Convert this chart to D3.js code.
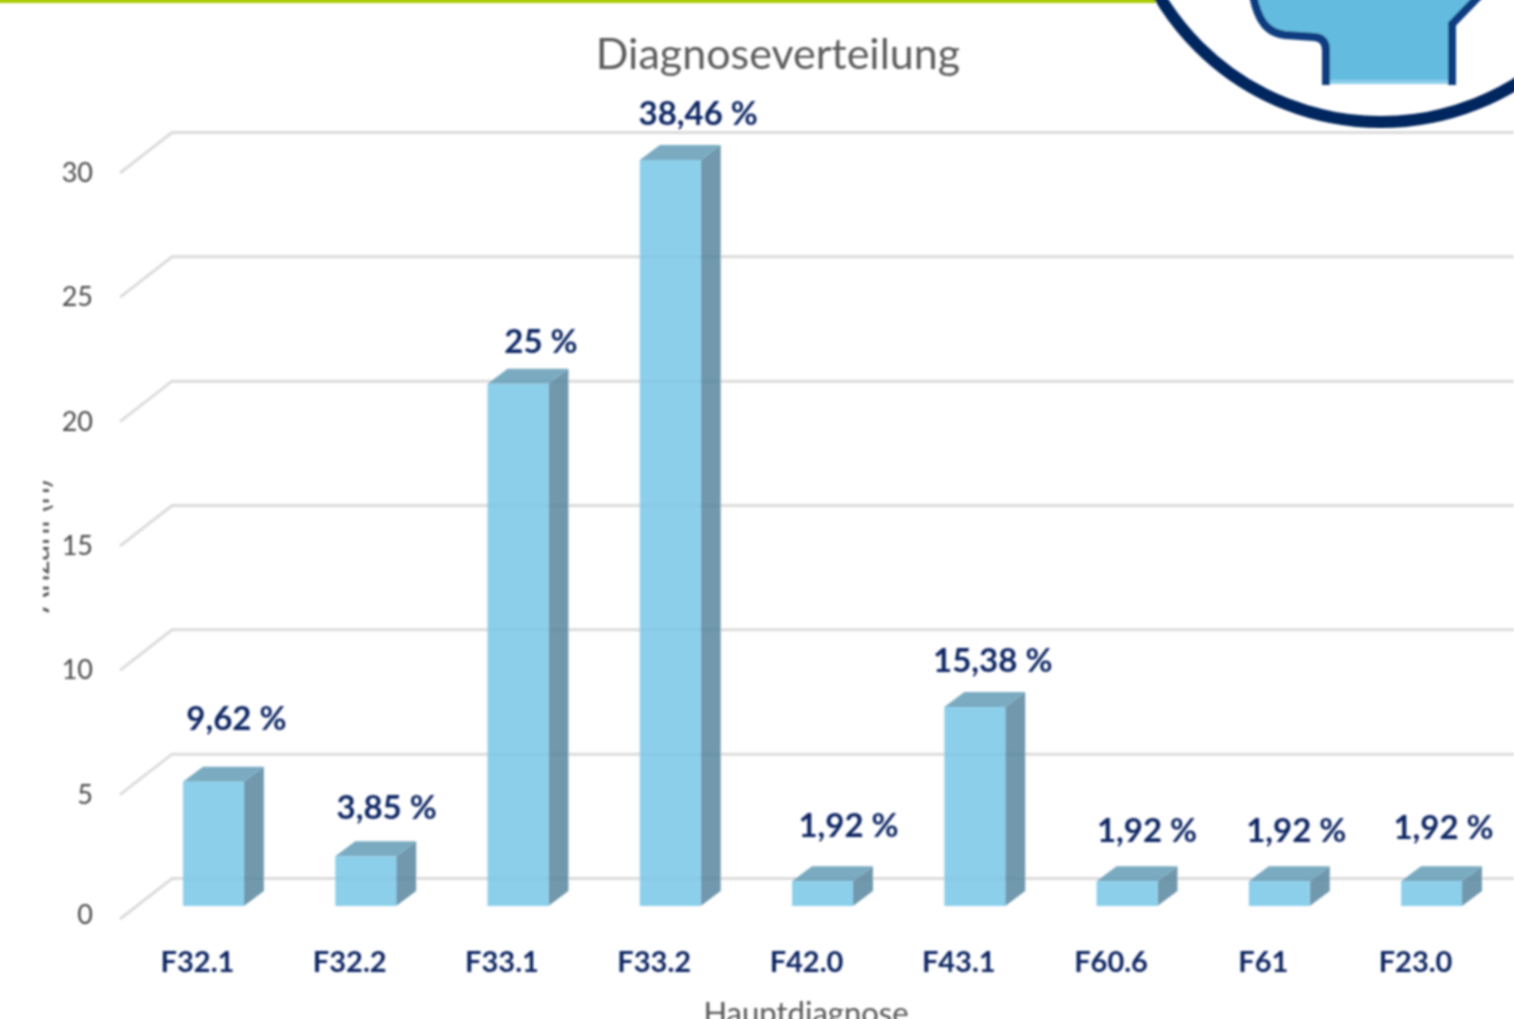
<!DOCTYPE html>
<html lang="de">
<head>
<meta charset="utf-8">
<title>Diagnoseverteilung</title>
<script src="https://cdn.jsdelivr.net/npm/d3@7"></script>
<style>
    html, body { margin: 0; padding: 0; background: #fff; overflow: hidden; }
    svg { display: block; }
    text { font-family: Lato, "Open Sans", sans-serif; }
    .domain { display: none; }
</style>
</head>
<body>
<div id="chart"></div>
<script>
// Chart data
var categories = ['F32.1', 'F32.2', 'F33.1', 'F33.2', 'F42.0', 'F43.1', 'F60.6', 'F61', 'F23.0'];
var counts = [5, 2, 21, 30, 1, 8, 1, 1, 1];
var percentLabels = ['9,62 %', '3,85 %', '25 %', '38,46 %', '1,92 %', '15,38 %', '1,92 %', '1,92 %', '1,92 %'];
var yTicks = [0, 5, 10, 15, 20, 25, 30];

// The data labels were moved by hand in the original, so each has its own nudge
var labelNudgeX = [23, 21, 23, 28, 26, 18, 20, 17, 12];
var labelNudgeY = [-64, -49, -43, -47, -56, -47, -51, -51, -54];

var width = 1514,
    height = 1019,
    depthX = 20,
    depthY = 15,
    navy = '#0e2763';

var svg = d3.select('#chart').append('svg')
    .attr('width', width)
    .attr('height', height);

// Source is an upscaled screenshot, so everything gets a slight softening
svg.append('defs').append('filter')
    .attr('id', 'soft')
    .attr('filterUnits', 'userSpaceOnUse')
    .attr('x', 0).attr('y', 0).attr('width', width).attr('height', height)
    .append('feGaussianBlur')
    .attr('stdDeviation', 0.8);

svg.select('defs').append('clipPath')
    .attr('id', 'cutTitle')
    .append('rect')
    .attr('x', 43).attr('y', 470).attr('width', 10).attr('height', 150);

var root = svg.append('g').attr('filter', 'url(#soft)');

var x = d3.scaleBand()
    .domain(categories)
    .range([183, 1462])
    .paddingInner(0.6)
    .paddingOuter(0);

var y = d3.scaleLinear()
    .domain([0, 30])
    .range([906, 160]);

/* Page decoration */
root.append('rect')
    .attr('x', -5).attr('y', -5)
    .attr('width', 1161).attr('height', 8)
    .attr('fill', '#a9cc00');

root.append('circle')
    .attr('cx', 1381).attr('cy', -136)
    .attr('r', 258)
    .attr('fill', 'none')
    .attr('stroke', '#00285f')
    .attr('stroke-width', 12);

root.append('path')
    .attr('d', 'M1250,-5 C1256,22 1268,33 1285,35 L1314,37 Q1326,38 1326,50 L1326,84 L1452,84 L1452,24 L1480,-5 Z')
    .attr('fill', '#64bce0');

root.append('rect')
    .attr('x', 1326).attr('y', 80)
    .attr('width', 126).attr('height', 4)
    .attr('fill', '#8ccfeb');

root.append('path')
    .attr('d', 'M1253,-5 C1258,22 1268,33 1285,35 L1314,37 Q1326,38 1326,50 L1326,85 M1452,85 L1452,24 L1480,-5')
    .attr('fill', 'none')
    .attr('stroke', '#0f3d80')
    .attr('stroke-width', 8);

/* Title */
root.append('text')
    .attr('x', 778).attr('y', 69)
    .attr('text-anchor', 'middle')
    .attr('font-size', 43)
    .attr('fill', '#5c5c5c')
    .text('Diagnoseverteilung');

/* Floor and wall gridlines */
root.append('g').selectAll('path')
    .data(yTicks)
    .enter()
    .append('path')
    .attr('d', function (d) {
        return 'M120,' + (y(d) + 13) + 'L172,' + (y(d) - 27.5) + 'L' + width + ',' + (y(d) - 27.5);
    })
    .attr('fill', 'none')
    .attr('stroke', '#dcdcdc')
    .attr('stroke-width', 3);

/* Axes */
var yAxis = root.append('g')
    .attr('transform', 'translate(96,13)')
    .call(d3.axisLeft(y).tickValues(yTicks).tickSize(0));

yAxis.selectAll('text')
    .attr('font-size', 27)
    .attr('fill', '#4a4a4a')
    .attr('dy', function (d) { return d === 0 ? '0.17em' : '0.32em'; });

var xAxis = root.append('g')
    .attr('transform', 'translate(-16,948)')
    .call(d3.axisBottom(x).tickSize(0));

xAxis.selectAll('text')
    .attr('font-size', 29)
    .attr('font-weight', 700)
    .attr('fill', navy);

// The source crop ends halfway through this title, so it runs off the page here too
root.append('text')
    .attr('x', 806).attr('y', 1024)
    .attr('text-anchor', 'middle')
    .attr('font-size', 31)
    .attr('fill', '#555')
    .text('Hauptdiagnose');

// Only the lower edge of this title survives in the source crop
root.append('g')
    .attr('clip-path', 'url(#cutTitle)')
    .append('text')
    .attr('transform', 'translate(49,546) rotate(-90)')
    .attr('text-anchor', 'middle')
    .attr('font-size', 31)
    .attr('fill', '#555')
    .text('Anzahl (n)');

/* Bars */
var bar = root.append('g').selectAll('g')
    .data(counts)
    .enter()
    .append('g')
    .attr('opacity', 0.85);

bar.append('path')
    .attr('d', function (d, i) {
        var x0 = x(categories[i]) + x.bandwidth();
        return 'M' + x0 + ',' + y(d) + 'l' + depthX + ',' + (-depthY) + 'L' + (x0 + depthX) + ',' + (y(0) - depthY) + 'L' + x0 + ',' + y(0) + 'Z';
    })
    .attr('fill', '#57879f');

bar.append('path')
    .attr('d', function (d, i) {
        var x0 = x(categories[i]);
        return 'M' + x0 + ',' + y(d) + 'l' + depthX + ',' + (-depthY) + 'h' + x.bandwidth() + 'l' + (-depthX) + ',' + depthY + 'Z';
    })
    .attr('fill', '#639db7');

bar.append('rect')
    .attr('x', function (d, i) { return x(categories[i]); })
    .attr('y', function (d) { return y(d); })
    .attr('width', x.bandwidth())
    .attr('height', function (d) { return y(0) - y(d); })
    .attr('fill', '#78c7e7');

/* Percent labels */
root.append('g').selectAll('text')
    .data(counts)
    .enter()
    .append('text')
    .attr('x', function (d, i) { return x(categories[i]) + x.bandwidth() / 2 + labelNudgeX[i]; })
    .attr('y', function (d, i) { return y(d) + labelNudgeY[i] + 12; })
    .attr('text-anchor', 'middle')
    .attr('font-size', 33)
    .attr('font-weight', 700)
    .attr('fill', navy)
    .text(function (d, i) { return percentLabels[i]; });
</script>
</body>
</html>
